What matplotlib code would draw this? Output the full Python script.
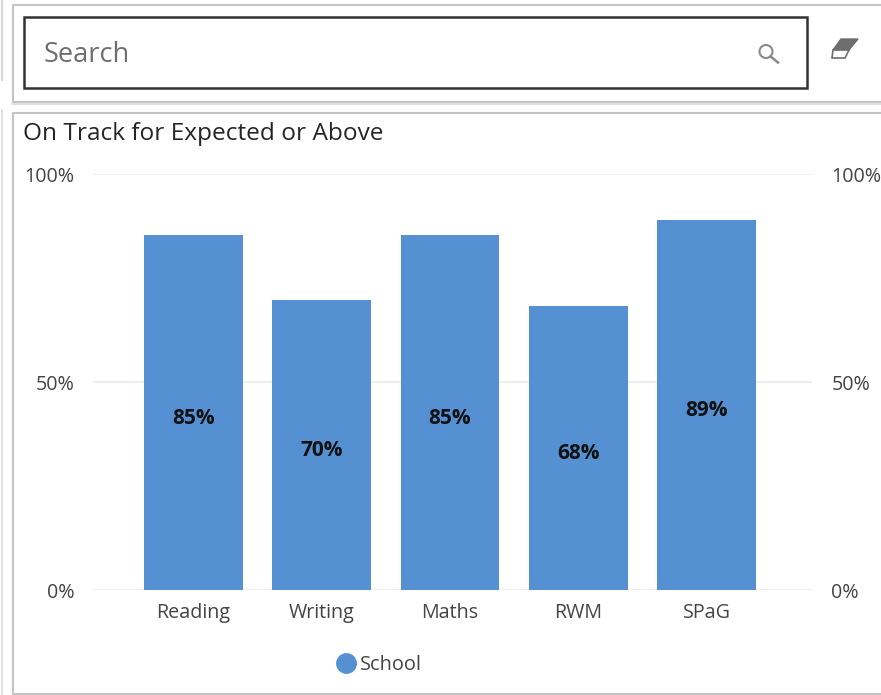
import matplotlib.pyplot as plt
from matplotlib.lines import Line2D
from matplotlib.patches import Circle, Polygon, Rectangle

W, H = 881, 695

categories = ['Reading', 'Writing', 'Maths', 'RWM', 'SPaG']
school = [85.3, 69.7, 85.3, 68.3, 88.9]
labels = ['85%', '70%', '85%', '68%', '89%']
y_ticks = [0, 50, 100]
y_tick_labels = ['0%', '50%', '100%']

BLUE = '#5591d2'
GRID = '#eeeeee'
TEXT = '#444444'
BORDER = '#c4c4c4'

plt.rcParams['font.family'] = ['Open Sans', 'DejaVu Sans']

fig = plt.figure(figsize=(W / 100, H / 100), dpi=100, facecolor='white')

# page chrome, in pixels of the screenshot
ui = fig.add_axes([0, 0, 1, 1])
ui.set_xlim(0, W)
ui.set_ylim(H, 0)
ui.axis('off')

ui.plot([1.5, 1.5], [0, 80], color='#d8d8d8', lw=1.5)
ui.plot([1.5, 1.5], [110, 695], color='#dcdcdc', lw=1.2)
ui.plot([881, 12.5, 12.5, 881], [4.5, 4.5, 102, 102], color=BORDER, lw=1.5)
ui.plot([12, 881], [104, 104], color='#e2e2e2', lw=1.5)
ui.plot([881, 12.5, 12.5, 881], [694, 694, 112.5, 112.5], color=BORDER, lw=1.5)

ui.add_patch(Rectangle((23.5, 16.5), 783, 71, fc='white', ec='#333333', lw=1.8))
ui.text(44, 55, 'Search', fontsize=19.5, color='#6e6e6e', va='center', ha='left')

# magnifier
ui.add_patch(Circle((766, 51.5), 6.5, fc='none', ec='#8a8a8a', lw=1.5))
ui.plot([770.5, 778], [56.5, 62.5], color='#8a8a8a', lw=1.8)

# eraser
ui.add_patch(Polygon([[841, 39], [858, 39], [849, 50], [833, 50]], fc='#6e6e6e', ec='#6e6e6e', lw=1))
ui.add_patch(Polygon([[833, 50], [849, 50], [845, 58], [832, 58]], fc='white', ec='#6e6e6e', lw=1.2))

ui.text(23, 134, 'On Track for Expected or Above', fontsize=17.6, color='#252525', va='center', ha='left')

# chart
ax = fig.add_axes([93 / W, 1 - 590 / H, (812 - 93) / W, (590 - 174) / H])
ax.patch.set_alpha(0)
x = list(range(len(categories)))
ax.bar(x, school, width=0.77, color=BLUE, zorder=3, label='School')
ax.set_xlim(-0.78, 4.82)
ax.set_ylim(0, 100)
ax.set_xticks(x, categories)
ax.set_yticks(y_ticks, y_tick_labels)
ax.grid(axis='y', color=GRID, lw=1.5, zorder=0)
ax.tick_params(axis='both', length=0, labelcolor=TEXT, labelsize=14.2)
ax.tick_params(axis='x', pad=9.5)
ax.tick_params(axis='y', pad=13.5)
for s in ax.spines.values():
    s.set_visible(False)
for i, v in enumerate(school):
    ax.annotate(labels[i], (i, v / 2), xytext=(0, -4), textcoords='offset points',
                ha='center', va='center', fontsize=15, fontweight='bold',
                color='#111111', zorder=4)

ax2 = ax.twinx()
ax2.patch.set_alpha(0)
ax2.set_ylim(0, 100)
ax2.set_yticks(y_ticks, y_tick_labels)
ax2.tick_params(axis='y', length=0, labelcolor=TEXT, labelsize=14.2, pad=14)
for s in ax2.spines.values():
    s.set_visible(False)

handle = Line2D([], [], ls='', marker='o', ms=14, color=BLUE)
ax.legend([handle], ['School'], loc='center', bbox_to_anchor=(377 / W, 1 - 665 / H),
          bbox_transform=fig.transFigure, frameon=False, fontsize=14.4, labelcolor=TEXT,
          handletextpad=0.0, handlelength=1.35)

fig.savefig('out.png', dpi=100)
